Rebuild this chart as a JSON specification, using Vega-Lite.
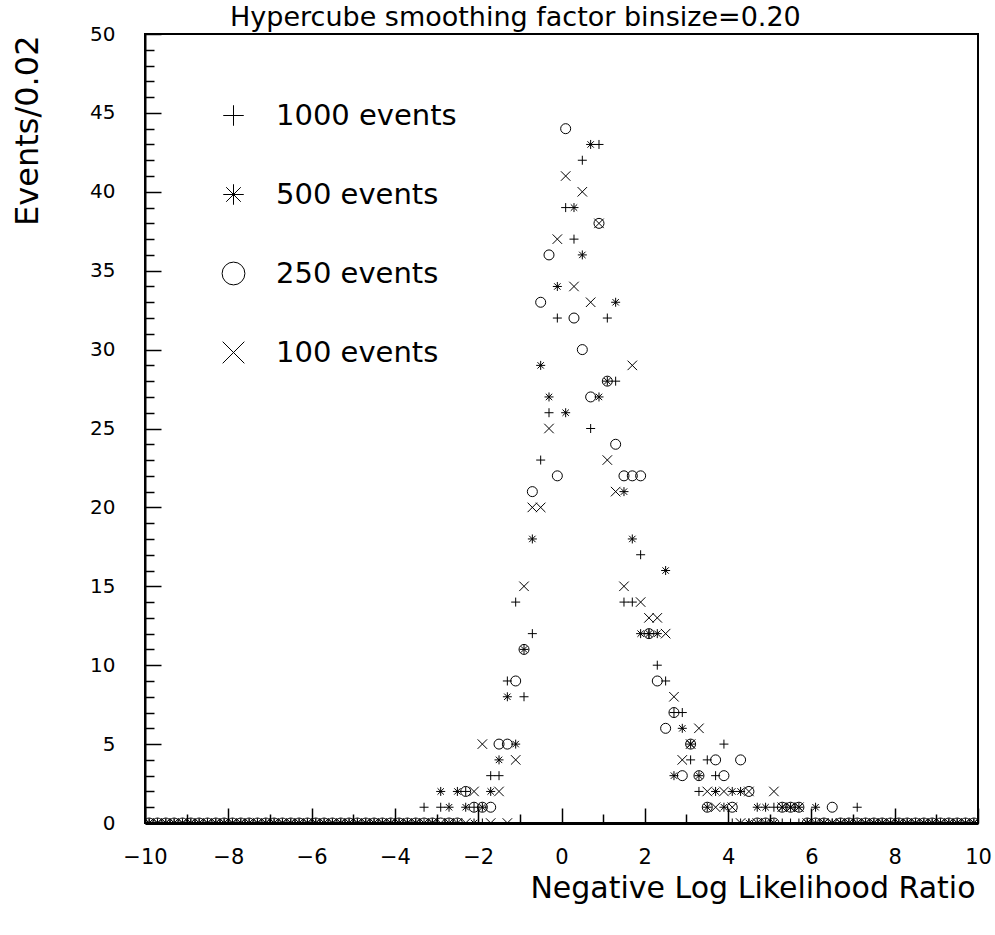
{
  "$schema": "https://vega.github.io/schema/vega-lite/v6.json",
  "width": 833,
  "height": 789,
  "autosize": "none",
  "padding": {"left": 145, "top": 34, "right": 17, "bottom": 112},
  "background": "white",
  "title": {
    "text": "Hypercube smoothing factor binsize=0.20",
    "font": "DejaVu Sans",
    "fontSize": 27,
    "fontWeight": "normal",
    "color": "black",
    "anchor": "start",
    "frame": "group",
    "dx": 85,
    "baseline": "alphabetic",
    "offset": -29
  },
  "data": {
    "values": [
      {"x": -9.9, "1000 events": 0, "500 events": 0, "250 events": 0, "100 events": 0},
      {"x": -9.7, "1000 events": 0, "500 events": 0, "250 events": 0, "100 events": 0},
      {"x": -9.5, "1000 events": 0, "500 events": 0, "250 events": 0, "100 events": 0},
      {"x": -9.3, "1000 events": 0, "500 events": 0, "250 events": 0, "100 events": 0},
      {"x": -9.1, "1000 events": 0, "500 events": 0, "250 events": 0, "100 events": 0},
      {"x": -8.9, "1000 events": 0, "500 events": 0, "250 events": 0, "100 events": 0},
      {"x": -8.7, "1000 events": 0, "500 events": 0, "250 events": 0, "100 events": 0},
      {"x": -8.5, "1000 events": 0, "500 events": 0, "250 events": 0, "100 events": 0},
      {"x": -8.3, "1000 events": 0, "500 events": 0, "250 events": 0, "100 events": 0},
      {"x": -8.1, "1000 events": 0, "500 events": 0, "250 events": 0, "100 events": 0},
      {"x": -7.9, "1000 events": 0, "500 events": 0, "250 events": 0, "100 events": 0},
      {"x": -7.7, "1000 events": 0, "500 events": 0, "250 events": 0, "100 events": 0},
      {"x": -7.5, "1000 events": 0, "500 events": 0, "250 events": 0, "100 events": 0},
      {"x": -7.3, "1000 events": 0, "500 events": 0, "250 events": 0, "100 events": 0},
      {"x": -7.1, "1000 events": 0, "500 events": 0, "250 events": 0, "100 events": 0},
      {"x": -6.9, "1000 events": 0, "500 events": 0, "250 events": 0, "100 events": 0},
      {"x": -6.7, "1000 events": 0, "500 events": 0, "250 events": 0, "100 events": 0},
      {"x": -6.5, "1000 events": 0, "500 events": 0, "250 events": 0, "100 events": 0},
      {"x": -6.3, "1000 events": 0, "500 events": 0, "250 events": 0, "100 events": 0},
      {"x": -6.1, "1000 events": 0, "500 events": 0, "250 events": 0, "100 events": 0},
      {"x": -5.9, "1000 events": 0, "500 events": 0, "250 events": 0, "100 events": 0},
      {"x": -5.7, "1000 events": 0, "500 events": 0, "250 events": 0, "100 events": 0},
      {"x": -5.5, "1000 events": 0, "500 events": 0, "250 events": 0, "100 events": 0},
      {"x": -5.3, "1000 events": 0, "500 events": 0, "250 events": 0, "100 events": 0},
      {"x": -5.1, "1000 events": 0, "500 events": 0, "250 events": 0, "100 events": 0},
      {"x": -4.9, "1000 events": 0, "500 events": 0, "250 events": 0, "100 events": 0},
      {"x": -4.7, "1000 events": 0, "500 events": 0, "250 events": 0, "100 events": 0},
      {"x": -4.5, "1000 events": 0, "500 events": 0, "250 events": 0, "100 events": 0},
      {"x": -4.3, "1000 events": 0, "500 events": 0, "250 events": 0, "100 events": 0},
      {"x": -4.1, "1000 events": 0, "500 events": 0, "250 events": 0, "100 events": 0},
      {"x": -3.9, "1000 events": 0, "500 events": 0, "250 events": 0, "100 events": 0},
      {"x": -3.7, "1000 events": 0, "500 events": 0, "250 events": 0, "100 events": 0},
      {"x": -3.5, "1000 events": 0, "500 events": 0, "250 events": 0, "100 events": 0},
      {"x": -3.3, "1000 events": 1, "500 events": 0, "250 events": 0, "100 events": 0},
      {"x": -3.1, "1000 events": 0, "500 events": 0, "250 events": 0, "100 events": 0},
      {"x": -2.9, "1000 events": 1, "500 events": 2, "250 events": 0, "100 events": 0},
      {"x": -2.7, "1000 events": 0, "500 events": 1, "250 events": 0, "100 events": 0},
      {"x": -2.5, "1000 events": 0, "500 events": 2, "250 events": 0, "100 events": 0},
      {"x": -2.3, "1000 events": 2, "500 events": 1, "250 events": 2, "100 events": 0},
      {"x": -2.1, "1000 events": 1, "500 events": 0, "250 events": 1, "100 events": 2},
      {"x": -1.9, "1000 events": 0, "500 events": 1, "250 events": 1, "100 events": 5},
      {"x": -1.7, "1000 events": 3, "500 events": 2, "250 events": 1, "100 events": 0},
      {"x": -1.5, "1000 events": 3, "500 events": 4, "250 events": 5, "100 events": 2},
      {"x": -1.3, "1000 events": 9, "500 events": 8, "250 events": 5, "100 events": 0},
      {"x": -1.1, "1000 events": 14, "500 events": 5, "250 events": 9, "100 events": 4},
      {"x": -0.9, "1000 events": 8, "500 events": 11, "250 events": 11, "100 events": 15},
      {"x": -0.7, "1000 events": 12, "500 events": 18, "250 events": 21, "100 events": 20},
      {"x": -0.5, "1000 events": 23, "500 events": 29, "250 events": 33, "100 events": 20},
      {"x": -0.3, "1000 events": 26, "500 events": 27, "250 events": 36, "100 events": 25},
      {"x": -0.1, "1000 events": 32, "500 events": 34, "250 events": 22, "100 events": 37},
      {"x": 0.1, "1000 events": 39, "500 events": 26, "250 events": 44, "100 events": 41},
      {"x": 0.3, "1000 events": 37, "500 events": 39, "250 events": 32, "100 events": 34},
      {"x": 0.5, "1000 events": 42, "500 events": 36, "250 events": 30, "100 events": 40},
      {"x": 0.7, "1000 events": 25, "500 events": 43, "250 events": 27, "100 events": 33},
      {"x": 0.9, "1000 events": 43, "500 events": 27, "250 events": 38, "100 events": 38},
      {"x": 1.1, "1000 events": 32, "500 events": 28, "250 events": 28, "100 events": 23},
      {"x": 1.3, "1000 events": 28, "500 events": 33, "250 events": 24, "100 events": 21},
      {"x": 1.5, "1000 events": 14, "500 events": 21, "250 events": 22, "100 events": 15},
      {"x": 1.7, "1000 events": 14, "500 events": 18, "250 events": 22, "100 events": 29},
      {"x": 1.9, "1000 events": 17, "500 events": 12, "250 events": 22, "100 events": 14},
      {"x": 2.1, "1000 events": 12, "500 events": 12, "250 events": 12, "100 events": 13},
      {"x": 2.3, "1000 events": 10, "500 events": 12, "250 events": 9, "100 events": 13},
      {"x": 2.5, "1000 events": 9, "500 events": 16, "250 events": 6, "100 events": 12},
      {"x": 2.7, "1000 events": 7, "500 events": 3, "250 events": 7, "100 events": 8},
      {"x": 2.9, "1000 events": 7, "500 events": 6, "250 events": 3, "100 events": 4},
      {"x": 3.1, "1000 events": 4, "500 events": 5, "250 events": 5, "100 events": 5},
      {"x": 3.3, "1000 events": 2, "500 events": 3, "250 events": 3, "100 events": 6},
      {"x": 3.5, "1000 events": 4, "500 events": 1, "250 events": 1, "100 events": 2},
      {"x": 3.7, "1000 events": 3, "500 events": 2, "250 events": 4, "100 events": 1},
      {"x": 3.9, "1000 events": 5, "500 events": 1, "250 events": 3, "100 events": 2},
      {"x": 4.1, "1000 events": 0, "500 events": 2, "250 events": 1, "100 events": 1},
      {"x": 4.3, "1000 events": 0, "500 events": 2, "250 events": 4, "100 events": 0},
      {"x": 4.5, "1000 events": 0, "500 events": 0, "250 events": 2, "100 events": 2},
      {"x": 4.7, "1000 events": 0, "500 events": 1, "250 events": 0, "100 events": 0},
      {"x": 4.9, "1000 events": 0, "500 events": 1, "250 events": 0, "100 events": 0},
      {"x": 5.1, "1000 events": 1, "500 events": 0, "250 events": 0, "100 events": 2},
      {"x": 5.3, "1000 events": 0, "500 events": 1, "250 events": 1, "100 events": 1},
      {"x": 5.5, "1000 events": 0, "500 events": 1, "250 events": 1, "100 events": 1},
      {"x": 5.7, "1000 events": 0, "500 events": 1, "250 events": 1, "100 events": 1},
      {"x": 5.9, "1000 events": 0, "500 events": 0, "250 events": 0, "100 events": 0},
      {"x": 6.1, "1000 events": 0, "500 events": 1, "250 events": 0, "100 events": 0},
      {"x": 6.3, "1000 events": 0, "500 events": 0, "250 events": 0, "100 events": 0},
      {"x": 6.5, "1000 events": 0, "500 events": 0, "250 events": 1, "100 events": 0},
      {"x": 6.7, "1000 events": 0, "500 events": 0, "250 events": 0, "100 events": 0},
      {"x": 6.9, "1000 events": 0, "500 events": 0, "250 events": 0, "100 events": 0},
      {"x": 7.1, "1000 events": 1, "500 events": 0, "250 events": 0, "100 events": 0},
      {"x": 7.3, "1000 events": 0, "500 events": 0, "250 events": 0, "100 events": 0},
      {"x": 7.5, "1000 events": 0, "500 events": 0, "250 events": 0, "100 events": 0},
      {"x": 7.7, "1000 events": 0, "500 events": 0, "250 events": 0, "100 events": 0},
      {"x": 7.9, "1000 events": 0, "500 events": 0, "250 events": 0, "100 events": 0},
      {"x": 8.1, "1000 events": 0, "500 events": 0, "250 events": 0, "100 events": 0},
      {"x": 8.3, "1000 events": 0, "500 events": 0, "250 events": 0, "100 events": 0},
      {"x": 8.5, "1000 events": 0, "500 events": 0, "250 events": 0, "100 events": 0},
      {"x": 8.7, "1000 events": 0, "500 events": 0, "250 events": 0, "100 events": 0},
      {"x": 8.9, "1000 events": 0, "500 events": 0, "250 events": 0, "100 events": 0},
      {"x": 9.1, "1000 events": 0, "500 events": 0, "250 events": 0, "100 events": 0},
      {"x": 9.3, "1000 events": 0, "500 events": 0, "250 events": 0, "100 events": 0},
      {"x": 9.5, "1000 events": 0, "500 events": 0, "250 events": 0, "100 events": 0},
      {"x": 9.7, "1000 events": 0, "500 events": 0, "250 events": 0, "100 events": 0},
      {"x": 9.9, "1000 events": 0, "500 events": 0, "250 events": 0, "100 events": 0}
    ]
  },
  "transform": [
    {"fold": ["1000 events", "500 events", "250 events", "100 events"], "as": ["series", "count"]}
  ],
  "mark": {"type": "point", "filled": false, "stroke": "black", "strokeWidth": 1, "size": 100, "clip": true, "opacity": 1},
  "encoding": {
    "x": {
      "field": "x",
      "type": "quantitative",
      "scale": {"domain": [-10, 10], "nice": false, "zero": false},
      "axis": {
        "values": [-10,-9.5,-9,-8.5,-8,-7.5,-7,-6.5,-6,-5.5,-5,-4.5,-4,-3.5,-3,-2.5,-2,-1.5,-1,-0.5,0,0.5,1,1.5,2,2.5,3,3.5,4,4.5,5,5.5,6,6.5,7,7.5,8,8.5,9,9.5,10],
        "format": "d",
        "tickSize": {"condition": {"test": "datum.value % 2 === 0", "value": -15}, "value": -9},
        "labelExpr": "datum.value % 2 === 0 ? datum.label : ''",
        "labelFlush": false,
        "labelOverlap": false,
        "labelBound": false,
        "labelPadding": 38,
        "labelFont": "DejaVu Sans",
        "labelFontSize": 21,
        "labelColor": "black",
        "domainColor": "black",
        "domainWidth": 3,
        "tickColor": "black",
        "tickWidth": 1.5,
        "grid": false,
        "title": "Negative Log Likelihood Ratio",
        "titleFont": "DejaVu Sans",
        "titleFontSize": 30,
        "titleFontWeight": "normal",
        "titleColor": "black",
        "titleX": 830,
        "titleY": 74,
        "titleAlign": "right",
        "titleBaseline": "alphabetic",
        "titleAnchor": null
      }
    },
    "y": {
      "field": "count",
      "type": "quantitative",
      "scale": {"domain": [0, 50], "nice": false, "zero": true},
      "axis": {
        "values": [0,1,2,3,4,5,6,7,8,9,10,11,12,13,14,15,16,17,18,19,20,21,22,23,24,25,26,27,28,29,30,31,32,33,34,35,36,37,38,39,40,41,42,43,44,45,46,47,48,49,50],
        "format": "d",
        "tickSize": {"condition": {"test": "datum.value % 5 === 0", "value": -16}, "value": -9},
        "labelExpr": "datum.value % 5 === 0 ? datum.label : ''",
        "labelFlush": false,
        "labelOverlap": false,
        "labelBound": false,
        "labelPadding": 46,
        "labelFont": "DejaVu Sans",
        "labelFontSize": 20,
        "labelColor": "black",
        "domainColor": "black",
        "domainWidth": 2,
        "tickColor": "black",
        "tickWidth": 1.5,
        "grid": false,
        "title": "Events/0.02",
        "titleFont": "DejaVu Sans",
        "titleFontSize": 32,
        "titleFontWeight": "normal",
        "titleColor": "black",
        "titleAngle": -90,
        "titleX": -108,
        "titleY": 1,
        "titleAlign": "right",
        "titleBaseline": "alphabetic",
        "titleAnchor": null
      }
    },
    "shape": {
      "field": "series",
      "type": "nominal",
      "scale": {
        "domain": ["1000 events", "500 events", "250 events", "100 events"],
        "range": [
          "M-0.9,0L0.9,0M0,-0.9L0,0.9",
          "M-0.9,0L0.9,0M0,-0.9L0,0.9M-0.64,-0.64L0.64,0.64M-0.64,0.64L0.64,-0.64",
          "circle",
          "M-0.95,-0.95L0.95,0.95M-0.95,0.95L0.95,-0.95"
        ]
      },
      "legend": {
        "orient": "none",
        "legendX": 74,
        "legendY": 67,
        "title": null,
        "labelFont": "DejaVu Sans",
        "labelFontSize": 29,
        "labelColor": "black",
        "labelLimit": 0,
        "symbolSize": 520,
        "symbolStrokeWidth": 1,
        "symbolStrokeColor": "black",
        "symbolFillColor": "transparent",
        "rowPadding": 49,
        "labelOffset": 28,
        "padding": 0
      }
    }
  },
  "config": {
    "view": {"stroke": "black", "strokeWidth": 2}
  }
}
